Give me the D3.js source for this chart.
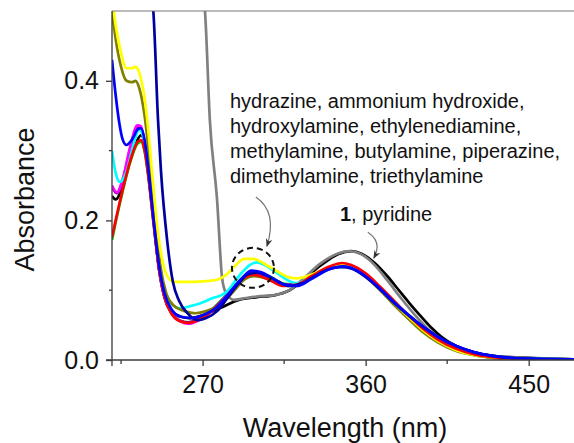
<!DOCTYPE html>
<html>
<head>
<meta charset="utf-8">
<script src="https://cdn.jsdelivr.net/npm/d3@7"></script>
<style>
  body { margin: 0; background: #fff; }
  svg { display: block; font-family: "Liberation Sans", Arial, sans-serif; }
</style>
</head>
<body>
<svg></svg>
<script>
let width = 574
let height = 443
let margin = { top: 11, right: 0, bottom: 83, left: 112 }

// spectra: [wavelength nm, absorbance]
let compound1 = [[220, 0.235], [222, 0.23], [226, 0.25], [230, 0.285], [234, 0.315], [236, 0.322], [238, 0.31], [240, 0.27], [243, 0.2], [246, 0.13], [249, 0.09], [253, 0.07], [258, 0.062], [263, 0.06], [270, 0.064], [280, 0.075], [290, 0.086], [300, 0.09], [310, 0.093], [318, 0.1], [325, 0.113], [335, 0.135], [345, 0.152], [352, 0.156], [358, 0.152], [365, 0.139], [372, 0.12], [378, 0.101], [384, 0.082], [390, 0.064], [396, 0.047], [402, 0.033], [410, 0.02], [420, 0.011], [430, 0.006], [440, 0.004], [450, 0.003], [460, 0.002], [475, 0.001]]
let pyridine = [[270.5, 0.52], [271.3, 0.5], [274, 0.344], [278, 0.229], [280.7, 0.119], [282.5, 0.098], [285, 0.089], [287, 0.086], [292, 0.088], [300, 0.091], [310, 0.093], [318, 0.1], [325, 0.115], [335, 0.138], [345, 0.153], [351, 0.156], [358, 0.151], [365, 0.136], [372, 0.114], [380, 0.087], [388, 0.062], [395, 0.043], [402, 0.029], [410, 0.017], [420, 0.01], [430, 0.006], [450, 0.003], [475, 0.001]]
let red = [[220, 0.176], [222, 0.2], [226, 0.245], [230, 0.285], [234, 0.312], [236, 0.315], [238, 0.3], [240, 0.265], [243, 0.195], [246, 0.13], [249, 0.09], [253, 0.066], [258, 0.055], [262, 0.053], [268, 0.058], [275, 0.07], [282, 0.087], [288, 0.105], [293, 0.118], [297, 0.122], [302, 0.12], [308, 0.113], [315, 0.106], [322, 0.108], [330, 0.12], [340, 0.134], [347, 0.139], [352, 0.136], [360, 0.124], [368, 0.105], [376, 0.084], [384, 0.063], [392, 0.044], [400, 0.029], [410, 0.016], [420, 0.008], [430, 0.004], [440, 0.002], [450, 0.001], [475, 0.0005]]
let magenta = [[220, 0.25], [222.7, 0.24], [226, 0.26], [230, 0.305], [234, 0.336], [236, 0.335], [238, 0.31], [240, 0.27], [243, 0.2], [246, 0.13], [249, 0.09], [253, 0.066], [258, 0.055], [262, 0.052], [268, 0.057], [275, 0.07], [282, 0.088], [288, 0.106], [293, 0.119], [297, 0.124], [302, 0.122], [308, 0.115], [315, 0.107], [322, 0.108], [330, 0.12], [340, 0.133], [347, 0.137], [352, 0.135], [360, 0.122], [368, 0.103], [376, 0.082], [384, 0.062], [392, 0.043], [400, 0.028], [410, 0.015], [420, 0.008], [430, 0.004], [450, 0.001], [475, 0.0005]]
let cyan = [[220, 0.3], [222, 0.268], [224.4, 0.255], [228, 0.27], [232, 0.31], [235, 0.33], [237, 0.322], [240, 0.28], [243, 0.21], [246, 0.14], [249, 0.1], [253, 0.08], [257.5, 0.074], [263, 0.077], [268.5, 0.081], [275, 0.088], [283, 0.097], [290, 0.12], [296, 0.136], [300, 0.14], [305, 0.135], [312, 0.123], [318, 0.113], [322, 0.11], [330, 0.12], [340, 0.133], [347, 0.137], [352, 0.135], [360, 0.122], [368, 0.103], [376, 0.082], [384, 0.062], [392, 0.043], [400, 0.028], [410, 0.016], [420, 0.009], [430, 0.005], [450, 0.002], [475, 0.001]]
let yellow = [[220, 0.52], [222, 0.48], [225, 0.44], [228, 0.418], [231, 0.418], [233, 0.42], [235, 0.412], [238, 0.375], [240, 0.33], [242, 0.272], [245, 0.19], [248, 0.14], [251, 0.118], [254, 0.112], [258, 0.112], [265, 0.112], [272, 0.113], [278, 0.115], [283, 0.122], [288, 0.135], [293, 0.145], [298, 0.145], [304, 0.138], [310, 0.129], [316, 0.12], [322, 0.117], [330, 0.122], [340, 0.133], [347, 0.137], [352, 0.135], [360, 0.122], [368, 0.102], [376, 0.081], [384, 0.061], [392, 0.042], [400, 0.027], [410, 0.014], [420, 0.007], [430, 0.004], [450, 0.001], [475, 0.0005]]
let olive = [[220, 0.5], [222, 0.46], [225, 0.42], [228, 0.4], [231, 0.398], [233, 0.4], [235, 0.39], [238, 0.35], [241, 0.28], [244, 0.2], [247, 0.13], [250, 0.095], [254, 0.078], [260, 0.07], [266, 0.067], [272, 0.07], [280, 0.08], [287, 0.098], [293, 0.115], [298, 0.12], [305, 0.117], [312, 0.11], [318, 0.106], [324, 0.109], [332, 0.122], [340, 0.131], [347, 0.134], [352, 0.132], [360, 0.119], [368, 0.1], [376, 0.078], [384, 0.058], [392, 0.039], [400, 0.025], [410, 0.013], [420, 0.007], [430, 0.003], [450, 0.001], [475, 0.0005]]
let blue = [[220, 0.43], [222, 0.38], [224, 0.34], [226, 0.315], [228, 0.308], [230, 0.312], [232, 0.32], [234, 0.33], [236, 0.332], [238, 0.315], [240, 0.275], [243, 0.2], [246, 0.135], [249, 0.095], [253, 0.072], [258, 0.062], [264, 0.06], [270, 0.064], [278, 0.076], [286, 0.1], [292, 0.118], [297, 0.128], [302, 0.126], [308, 0.118], [315, 0.108], [322, 0.106], [330, 0.116], [340, 0.13], [347, 0.134], [352, 0.132], [360, 0.12], [368, 0.102], [376, 0.082], [384, 0.064], [392, 0.047], [400, 0.033], [410, 0.02], [420, 0.011], [430, 0.006], [440, 0.003], [450, 0.002], [475, 0.001]]
let navy = [[242, 0.52], [242.8, 0.5], [245.4, 0.344], [247, 0.272], [250.5, 0.17], [253.6, 0.112], [257, 0.085], [262, 0.066], [267, 0.057], [272, 0.06], [278, 0.07], [284, 0.09], [290, 0.11], [295, 0.123], [300, 0.125], [306, 0.12], [312, 0.112], [318, 0.106], [325, 0.11], [333, 0.122], [341, 0.131], [347, 0.133], [352, 0.131], [360, 0.119], [368, 0.101], [376, 0.081], [384, 0.063], [392, 0.047], [400, 0.033], [410, 0.02], [420, 0.011], [430, 0.006], [450, 0.002], [475, 0.001]]
let green = [[220, 0.172], [222, 0.197], [226, 0.243], [230, 0.283], [234, 0.31], [236, 0.313], [238, 0.299], [240, 0.264], [243, 0.194], [246, 0.129], [249, 0.089], [253, 0.066], [258, 0.056], [262, 0.054], [268, 0.059], [275, 0.072], [282, 0.09], [288, 0.107], [293, 0.12], [298, 0.126], [303, 0.124], [309, 0.117], [315, 0.109], [322, 0.108], [330, 0.119], [340, 0.132], [347, 0.136], [352, 0.134], [360, 0.121], [368, 0.102], [376, 0.081], [384, 0.061], [392, 0.042], [400, 0.027], [410, 0.014], [420, 0.007], [430, 0.004], [450, 0.001], [475, 0.0005]]
let purple = [[220, 0.248], [222.7, 0.239], [226, 0.258], [230, 0.302], [234, 0.333], [236, 0.332], [238, 0.307], [240, 0.268], [243, 0.198], [246, 0.13], [249, 0.09], [253, 0.067], [258, 0.056], [262, 0.054], [268, 0.059], [275, 0.071], [282, 0.089], [288, 0.106], [293, 0.119], [298, 0.123], [303, 0.121], [309, 0.114], [315, 0.108], [322, 0.108], [330, 0.12], [340, 0.133], [347, 0.137], [352, 0.135], [360, 0.122], [368, 0.103], [376, 0.082], [384, 0.062], [392, 0.043], [400, 0.028], [410, 0.015], [420, 0.008], [430, 0.004], [450, 0.001], [475, 0.0005]]

let seriesNames = ['1', 'pyridine', 'green', 'purple', 'magenta', 'cyan', 'olive', 'yellow', 'red', 'navy', 'blue']
let seriesData = [compound1, pyridine, green, purple, magenta, cyan, olive, yellow, red, navy, blue]
let seriesColors = ['#000000', '#808080', '#00c000', '#8000a0', '#ff00ff', '#00ffff', '#808000', '#ffff00', '#ff0000', '#0000a0', '#0000ff']

let xTicks = [270, 360, 450]
let xMinorTicks = [225, 315, 405]
let yTicks = [0.0, 0.2, 0.4]
let yMinorTicks = [0.1, 0.3]

let amineLabel = ['hydrazine, ammonium hydroxide,', 'hydroxylamine, ethylenediamine,', 'methylamine, butylamine, piperazine,', 'dimethylamine, triethylamine']

let svg = d3.select('svg')
    .attr('width', width)
    .attr('height', height)

let x = d3.scaleLinear().domain([220, 475]).range([margin.left, width - margin.right])
let y = d3.scaleLinear().domain([0, 0.5]).range([height - margin.bottom, margin.top])

svg.append('clipPath').attr('id', 'plot')
    .append('rect')
    .attr('x', margin.left).attr('y', margin.top)
    .attr('width', width - margin.left - margin.right)
    .attr('height', height - margin.top - margin.bottom)

let line = d3.line()
    .x(d => x(d[0]))
    .y(d => y(d[1]))
    .curve(d3.curveMonotoneX)

svg.append('g').attr('clip-path', 'url(#plot)')
    .selectAll('path')
    .data(seriesData).enter()
    .append('path')
    .attr('fill', 'none')
    .attr('stroke', (d, i) => seriesColors[i])
    .attr('stroke-width', 2.7)
    .attr('stroke-linejoin', 'round')
    .attr('d', line)

// axes
let axisColor = '#3a3a3a'
let xAxis = svg.append('g')
    .attr('transform', `translate(0,${y(0)})`)
    .call(d3.axisBottom(x).tickValues(xTicks).tickSize(6).tickPadding(9).tickFormat(d3.format('d')))
xAxis.append('g').selectAll('line')
    .data(xMinorTicks).enter()
    .append('line')
    .attr('x1', d => x(d)).attr('x2', d => x(d))
    .attr('y1', 0).attr('y2', 4)
let yAxis = svg.append('g')
    .attr('transform', `translate(${margin.left},0)`)
    .call(d3.axisLeft(y).tickValues(yTicks).tickSize(6).tickPadding(7).tickFormat(d3.format('.1f')))
yAxis.append('g').selectAll('line')
    .data(yMinorTicks).enter()
    .append('line')
    .attr('y1', d => y(d)).attr('y2', d => y(d))
    .attr('x1', 0).attr('x2', -3)
svg.selectAll('.domain').remove()
svg.append('line')
    .attr('x1', margin.left - 6).attr('x2', width)
    .attr('y1', y(0)).attr('y2', y(0))
svg.append('line')
    .attr('x1', margin.left).attr('x2', margin.left)
    .attr('y1', y(0) + 6).attr('y2', y(0.5))
svg.append('line')
    .attr('x1', margin.left).attr('x2', width)
    .attr('y1', y(0.5)).attr('y2', y(0.5))
    .attr('stroke', '#777')
svg.selectAll('line').filter(function () { return !this.getAttribute('stroke') || this.getAttribute('stroke') === 'currentColor' })
    .attr('stroke', axisColor).attr('stroke-width', 1.3)
svg.selectAll('.tick text')
    .attr('fill', '#111')
    .style('font-size', '25px')

svg.append('text')
    .attr('transform', `translate(34,${(y(0) + y(0.5)) / 2 + 14}) rotate(-90)`)
    .attr('text-anchor', 'middle')
    .attr('fill', '#111')
    .style('font-size', '27px')
    .text('Absorbance')
svg.append('text')
    .attr('x', (margin.left + width) / 2 + 2)
    .attr('y', 437)
    .attr('text-anchor', 'middle')
    .attr('fill', '#111')
    .style('font-size', '27px')
    .text('Wavelength (nm)')

// annotations
svg.append('defs').append('marker')
    .attr('id', 'head')
    .attr('viewBox', '0 0 10 10')
    .attr('refX', 9).attr('refY', 5)
    .attr('markerWidth', 7).attr('markerHeight', 7)
    .attr('orient', 'auto')
    .append('path')
    .attr('d', 'M0,1 L10,5 L0,9 L3,5 Z')
    .attr('fill', '#333')

svg.append('text')
    .attr('fill', '#111')
    .style('font-size', '20px')
    .selectAll('tspan')
    .data(amineLabel).enter()
    .append('tspan')
    .attr('x', x(285.1))
    .attr('y', (d, i) => 108 + i * 25)
    .text(d => d)

let pyLabel = svg.append('text')
    .attr('x', x(345.8)).attr('y', 221)
    .attr('fill', '#111')
    .style('font-size', '20px')
pyLabel.append('tspan').attr('font-weight', 'bold').text('1')
pyLabel.append('tspan').text(', pyridine')

svg.append('ellipse')
    .attr('cx', x(297.8)).attr('cy', y(0.132))
    .attr('rx', 21).attr('ry', 20)
    .attr('fill', 'none')
    .attr('stroke', '#111')
    .attr('stroke-width', 2)
    .attr('stroke-dasharray', '6,4')

let arrowPath = (a, c, b) => `M${x(a[0])},${y(a[1])} Q${x(c[0])},${y(c[1])} ${x(b[0])},${y(b[1])}`
svg.append('path')
    .attr('d', arrowPath([299.4, 0.2335], [311.5, 0.212], [305.5, 0.163]))
    .attr('fill', 'none').attr('stroke', '#777').attr('stroke-width', 1.2)
    .attr('marker-end', 'url(#head)')
svg.append('path')
    .attr('d', arrowPath([361.2, 0.183], [369.4, 0.169], [364.5, 0.146]))
    .attr('fill', 'none').attr('stroke', '#777').attr('stroke-width', 1.2)
    .attr('marker-end', 'url(#head)')
</script>
</body>
</html>
